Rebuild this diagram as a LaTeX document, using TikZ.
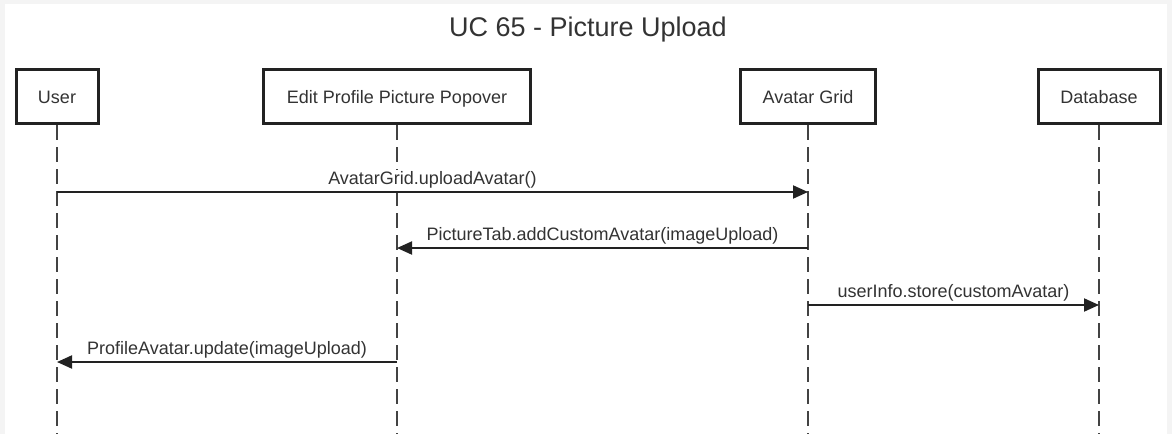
\documentclass[tikz,border=0pt]{standalone}
\usepackage{fontspec}
\setmainfont{Liberation Sans}
\usetikzlibrary{arrows.meta}
\definecolor{framegray}{HTML}{F4F4F4}
\definecolor{ink}{HTML}{222222}
\definecolor{txt}{HTML}{333333}

\begin{document}
\begin{tikzpicture}[x=1pt,y=-1pt,
    actor/.style={draw=ink,line width=3pt,fill=white,minimum height=54pt,text height=13pt,text depth=0pt,
        text=txt,font=\fontsize{18}{22}\selectfont},
    lifeline/.style={draw=ink!85,line width=2pt,dash pattern=on 15pt off 7pt},
    msg/.style={draw=ink,line width=2pt,-{Triangle[length=15pt,width=13pt]}},
    lbl/.style={above=2pt,inner sep=1pt,fill=white,text=txt,font=\fontsize{18}{22}\selectfont}]
    \useasboundingbox (0,0) rectangle (1172,434);
    \fill[framegray] (0,0) rectangle (1172,434);
    \fill[white] (5,4) rectangle (1167,434);
    \node[anchor=base,text=txt,font=\fontsize{27}{32}\selectfont] (title) at (588,36) {UC 65 - Picture Upload};

    % participants
    \node[actor,minimum width=82pt] (user) at (57,96.5) {User};
    \node[actor,minimum width=267pt] (popover) at (397,96.5) {Edit Profile Picture Popover};
    \node[actor,minimum width=135pt] (grid) at (808,96.5) {Avatar Grid};
    \node[actor,minimum width=122pt] (db) at (1099,96.5) {Database};

    \coordinate (userend) at (57,434);
    \coordinate (popoverend) at (397,434);
    \coordinate (gridend) at (808,434);
    \coordinate (dbend) at (1099,434);
    \draw[lifeline] (user.south) -- (userend);
    \draw[lifeline] (popover.south) -- (popoverend);
    \draw[lifeline] (grid.south) -- (gridend);
    \draw[lifeline] (db.south) -- (dbend);

    % message points
    \coordinate (u1) at (57,192);
    \coordinate (g1) at (808,192);
    \coordinate (g2) at (808,248);
    \coordinate (p2) at (397,248);
    \coordinate (g3) at (808,305);
    \coordinate (d3) at (1099,305);
    \coordinate (p4) at (397,362);
    \coordinate (u4) at (57,362);

    \draw (u1) edge [msg] node[lbl]{AvatarGrid.uploadAvatar()} (g1);
    \draw (g2) edge [msg] node[lbl]{PictureTab.addCustomAvatar(imageUpload)} (p2);
    \draw (g3) edge [msg] node[lbl]{userInfo.store(customAvatar)} (d3);
    \draw (p4) edge [msg] node[lbl]{ProfileAvatar.update(imageUpload)} (u4);
\end{tikzpicture}
\end{document}
